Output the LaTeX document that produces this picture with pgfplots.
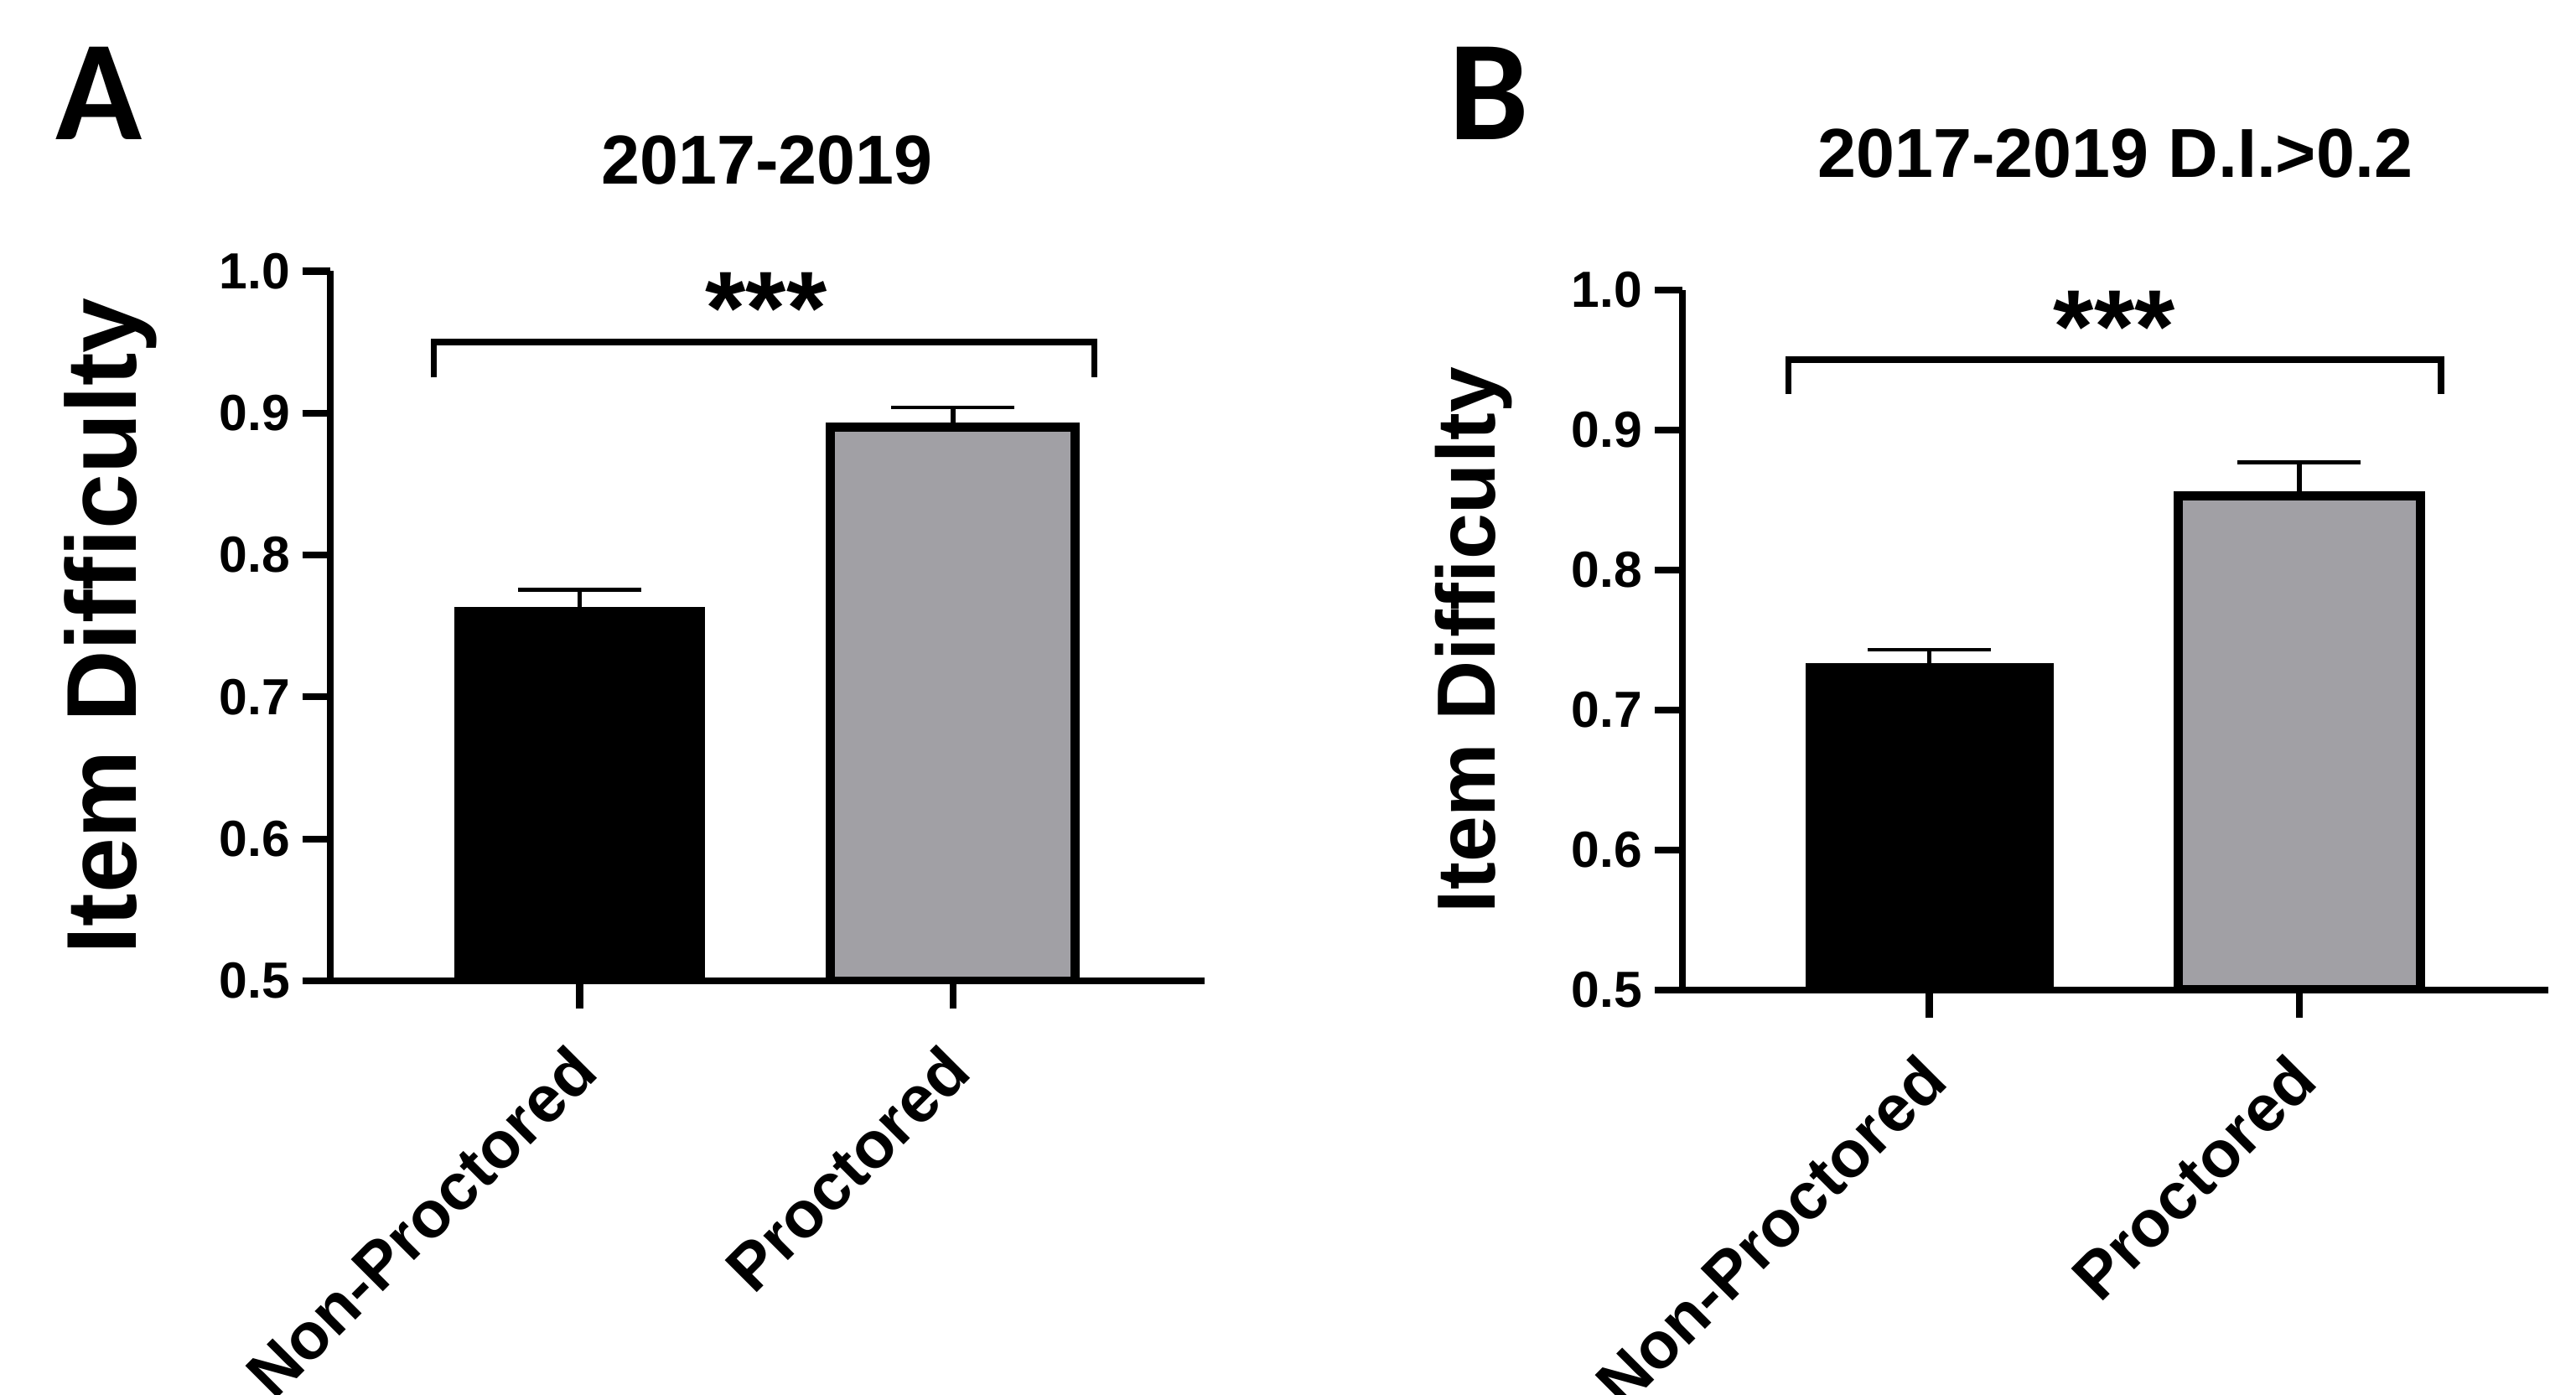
\documentclass[border=0pt]{standalone}
\usepackage{pgfplots}
\pgfplotsset{compat=1.18}
\usepackage{fontspec}
\setmainfont{Liberation Sans}
\newfontfamily\carlito{Carlito}
\definecolor{bargray}{RGB}{161,160,165}

\pgfplotsset{
  panel/.style={
    scale only axis, anchor=south west,
    xmin=-0.668, xmax=1.673, ymin=0.5, ymax=1.0,
    axis x line*=bottom, axis y line*=left,
    axis line style={line width=1.2pt, -},
    tick style={line width=1.2pt, black},
    major tick length=0.17cm,
    tick align=outside,
    clip mode=individual,
    axis on top=true,
    xtick={0,1}, xticklabels={Non-Proctored,Proctored},
    ytick={0.5,0.6,0.7,0.8,0.9,1.0},
    /pgf/number format/assume math mode=true,
    yticklabel style={/pgf/number format/fixed, /pgf/number format/fixed zerofill, /pgf/number format/precision=1,
      xshift=0.05cm, font=\fontsize{8.8}{10}\selectfont\bfseries},
    xticklabel style={xshift=-0.08cm, yshift=-0.19cm, rotate=45, anchor=north east, inner sep=0pt,
      font=\fontsize{11.4}{13}\selectfont\bfseries},
    ylabel={Item Difficulty},
    title style={anchor=base, font=\fontsize{12}{14}\selectfont\bfseries},
  },
  npbar/.style={ybar, bar width=0.666, bar shift=0pt, fill=black, draw=black, line width=0.3pt,
    error bars/.cd, y dir=plus, y explicit,
    error bar style={line width=0.8pt, black},
    error mark options={rotate=90, line width=0.6pt, mark size=0.375cm, black}},
  pbar/.style={ybar, bar width=0.655, bar shift=0pt, fill=bargray, draw=black, line width=1.6pt,
    error bars/.cd, y dir=plus, y explicit,
    error bar style={line width=0.8pt, black},
    error mark options={rotate=90, line width=0.6pt, mark size=0.375cm, black}},
  bracket/.style={black, line width=1.1pt, mark=none, line join=miter},
}

\begin{document}
\begin{tikzpicture}
\path[use as bounding box] (0,0) rectangle (15.68,8.49);

\node[anchor=base west, inner sep=0pt, font=\carlito\bfseries\fontsize{24.7}{28}\selectfont] at (0.33,7.64) {A};
\node[anchor=base west, inner sep=0pt, font=\carlito\bfseries\fontsize{24.7}{28}\selectfont] at (8.81,7.64) {B};

% Panel A
\begin{axis}[panel,
  at={(2.01cm,2.52cm)}, width=5.32cm, height=4.32cm,
  title={2017-2019},
  title style={at={([yshift=0.319cm]axis description cs:0.5,1)}},
  ylabel style={at={([xshift=-1.18cm]axis description cs:0,0.5)}, anchor=base,
    font=\fontsize{17.2}{20}\selectfont\bfseries},
]
\addplot[npbar] coordinates {(0,0.763) +- (0,0.0125)};
\addplot[pbar] coordinates {(1,0.890) +- (0,0.014)};
\addplot[bracket] coordinates {(-0.391,0.925) (-0.391,0.950) (1.379,0.950) (1.379,0.925)};
\node[anchor=north, inner sep=0pt, font=\fontsize{18}{20}\selectfont\bfseries] at (axis cs:0.5,1.0) {***};
\end{axis}

% Panel B
\begin{axis}[panel,
  at={(10.24cm,2.464cm)}, width=5.27cm, height=4.26cm,
  title={2017-2019 D.I.>0.2},
  title style={at={([yshift=0.475cm]axis description cs:0.5,1)}},
  ylabel style={at={([xshift=-1.14cm]axis description cs:0,0.5)}, anchor=base,
    font=\fontsize{14.3}{17}\selectfont\bfseries},
]
\addplot[npbar] coordinates {(0,0.733) +- (0,0.010)};
\addplot[pbar] coordinates {(1,0.853) +- (0,0.024)};
\addplot[bracket] coordinates {(-0.381,0.926) (-0.381,0.9505) (1.383,0.9505) (1.383,0.926)};
\node[anchor=north, inner sep=0pt, font=\fontsize{18}{20}\selectfont\bfseries] at (axis cs:0.5,1.0) {***};
\end{axis}
\end{tikzpicture}
\end{document}
